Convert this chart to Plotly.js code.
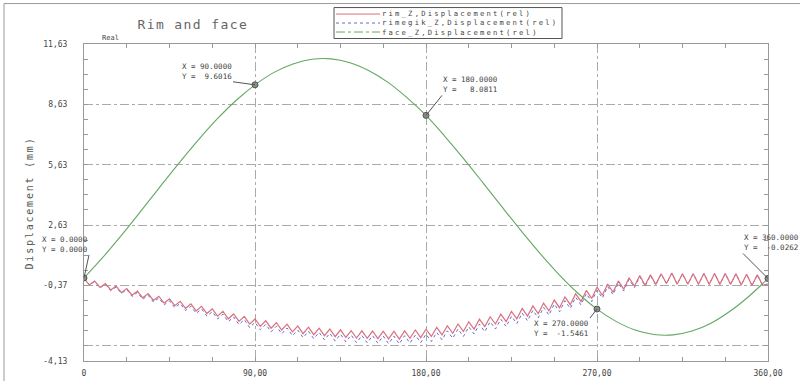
<!DOCTYPE html>
<html>
<head>
<meta charset="utf-8">
<script src="https://cdn.plot.ly/plotly-3.0.1.min.js"></script>
<style>html,body{margin:0;padding:0;background:#fff;}#chart{width:800px;height:381px;}</style>
</head>
<body>
<div id="chart"></div>
<script>
// ---- data ----
var faceAngle = [0,10,20,30,40,50,60,70,80,90,100,110,120,130,140,150,160,170,180,190,200,210,220,230,240,250,260,270,280,290,300,310,320,330,340,350,360];
var faceZ = [0.00,1.03,2.15,3.33,4.53,5.71,6.84,7.89,8.82,9.60,10.22,10.64,10.87,10.89,10.70,10.30,9.72,8.96,8.08,7.03,5.91,4.73,3.53,2.35,1.22,0.17,-0.76,-1.55,-2.16,-2.59,-2.81,-2.83,-2.64,-2.25,-1.66,-0.91,-0.03];

var rimStepCount = 128;   // 64 ripples over 360 deg, sampled at peaks and valleys
var rimZ = [-0.03,-0.34,-0.16,-0.47,-0.28,-0.60,-0.41,-0.73,-0.53,-0.86,-0.66,-0.99,-0.78,-1.12,-0.91,-1.25,-1.04,-1.38,-1.16,-1.51,
-1.29,-1.64,-1.41,-1.77,-1.54,-1.90,-1.66,-2.03,-1.79,-2.16,-1.91,-2.30,-2.04,-2.41,-2.13,-2.50,-2.22,-2.59,-2.30,-2.68,
-2.39,-2.77,-2.45,-2.82,-2.50,-2.87,-2.54,-2.92,-2.58,-2.96,-2.62,-2.99,-2.63,-3.00,-2.64,-3.02,-2.65,-3.03,-2.65,-3.04,
-2.63,-3.00,-2.59,-2.97,-2.55,-2.91,-2.46,-2.83,-2.38,-2.75,-2.29,-2.66,-2.18,-2.54,-2.05,-2.42,-1.93,-2.29,-1.80,-2.17,
-1.66,-2.03,-1.52,-1.90,-1.39,-1.77,-1.25,-1.64,-1.10,-1.48,-0.94,-1.33,-0.78,-1.17,-0.62,-1.02,-0.46,-0.86,-0.30,-0.71,
-0.15,-0.56,0.01,-0.41,0.12,-0.36,0.16,-0.32,0.21,-0.28,0.25,-0.31,0.21,-0.31,0.21,-0.31,0.22,-0.32,0.22,-0.32,
0.22,-0.32,0.21,-0.35,0.18,-0.38,0.16,-0.37,-0.30];
var rimegikZ = [-0.03,-0.35,-0.17,-0.49,-0.31,-0.63,-0.45,-0.77,-0.58,-0.92,-0.72,-1.06,-0.86,-1.20,-1.00,-1.34,-1.14,-1.48,-1.27,-1.62,
-1.41,-1.76,-1.54,-1.90,-1.68,-2.04,-1.80,-2.18,-1.94,-2.32,-2.07,-2.47,-2.21,-2.58,-2.31,-2.68,-2.40,-2.78,-2.49,-2.87,
-2.59,-2.97,-2.65,-3.02,-2.71,-3.08,-2.75,-3.14,-2.80,-3.18,-2.84,-3.22,-2.86,-3.23,-2.87,-3.25,-2.89,-3.27,-2.89,-3.28,
-2.87,-3.24,-2.84,-3.22,-2.80,-3.16,-2.71,-3.08,-2.63,-3.00,-2.54,-2.91,-2.43,-2.79,-2.30,-2.67,-2.18,-2.54,-2.05,-2.42,
-1.90,-2.27,-1.75,-2.13,-1.61,-1.99,-1.46,-1.85,-1.30,-1.68,-1.13,-1.52,-0.96,-1.34,-0.78,-1.18,-0.61,-1.00,-0.43,-0.83,
-0.26,-0.65,-0.07,-0.48,0.06,-0.41,0.12,-0.35,0.19,-0.29,0.25,-0.31,0.21,-0.31,0.21,-0.31,0.22,-0.32,0.22,-0.32,
0.22,-0.32,0.21,-0.35,0.18,-0.38,0.16,-0.37,-0.30];

var pickX = [0, 90, 180, 270, 360];
var pickY = [0.0000, 9.6016, 8.0811, -1.5461, -0.0262];
var pickXText = ["0.0000", "90.0000", "180.0000", "270.0000", "360.0000"];
var pickYText = ["0.0000", "9.6016", "8.0811", "-1.5461", "-0.0262"];

var seriesNames = ["rim_Z,Displacement(rel)", "rimegik_Z,Displacement(rel)", "face_Z,Displacement(rel)"];
var xTickVals = [0, 90, 180, 270, 360];
var xTickText = ["0", "90,00", "180,00", "270,00", "360,00"];
var yTickVals = [11.63, 8.63, 5.63, 2.63, -0.37, -3.37, -4.13];
var yTickText = ["11,63", "8,63", "5,63", "2,63", "-0,37", "", "-4,13"];

// ---- chart ----
var rimAngle = [];
for (var i = 0; i < rimZ.length; i++) rimAngle.push(i * 360 / rimStepCount);

var colRim = "#d9707c", colEgik = "#6a6ad0", colFace = "#62a862";
var mono = "DejaVu Sans Mono, Liberation Mono, monospace";

var traces = [
  {x: rimAngle, y: rimegikZ, mode: "lines", name: seriesNames[1], line: {color: colEgik, width: 1, dash: "dot"}},
  {x: rimAngle, y: rimZ, mode: "lines", name: seriesNames[0], line: {color: colRim, width: 1.2}},
  {x: faceAngle, y: faceZ, mode: "lines", name: seriesNames[2], line: {color: colFace, width: 1.1, shape: "spline"}},
  {x: pickX, y: pickY, mode: "markers", showlegend: false,
   marker: {symbol: "circle", size: 6, color: "#8a8a8a", line: {color: "#555", width: 1}}}
];

function padLeft(s, n) { while (s.length < n) s = "\u00a0" + s; return s; }

// picked-point label placement (pixel offsets of the label corner)
var offs = [[5, -23], [-22, -3], [16, -20], [-7, 9], [-25, -25]];
var xAnch = ["right", "right", "left", "right", "left"];
var yAnch = ["bottom", "bottom", "bottom", "top", "bottom"];
var annotations = [];
for (var k = 0; k < pickX.length; k++) {
  var w = pickXText[k].length;
  annotations.push({
    x: pickX[k], y: pickY[k], xref: "x", yref: "y",
    text: "X = " + pickXText[k] + "<br>Y = " + padLeft(pickYText[k], w),
    showarrow: true, arrowhead: 0, arrowwidth: 1, arrowcolor: "#555",
    ax: offs[k][0], ay: offs[k][1], xanchor: xAnch[k], yanchor: yAnch[k],
    borderpad: 0, align: "left", font: {family: mono, size: 7.5, color: "#444"}
  });
}
annotations.push({xref: "paper", yref: "paper", x: 0.023, y: 1.0, yanchor: "bottom", xanchor: "left",
  text: "Real", showarrow: false, font: {family: mono, size: 7, color: "#444"}});
annotations.push({xref: "paper", yref: "paper", x: -0.079, y: 0.5, xanchor: "center", yanchor: "middle",
  text: '<span style="letter-spacing:1.8px">Displacement (mm)</span>', textangle: -90, showarrow: false,
  font: {family: mono, size: 10, color: "#555"}});

// compact legend drawn with shapes + one multi-line text
function px(p) { return (p - 84) / 684; }
function py(p) { return (361 - p) / 317.5; }
var shapes = [
  {type: "rect", xref: "paper", yref: "paper", x0: px(4), x1: px(830), y0: py(400), y1: py(3), line: {color: "#999", width: 1}},
  {type: "rect", xref: "paper", yref: "paper", x0: px(334), x1: px(562), y0: py(38), y1: py(7), line: {color: "#555", width: 1}, fillcolor: "#fff"}
];
var legCols = [colRim, colEgik, colFace];
var legDash = ["solid", "dot", "dashdot"];
var legY = [13.5, 22.5, 31.5];
for (var j = 0; j < 3; j++) {
  shapes.push({type: "line", xref: "paper", yref: "paper", x0: px(336), x1: px(380),
    y0: py(legY[j]), y1: py(legY[j]), line: {color: legCols[j], width: 1, dash: legDash[j]}});
}
annotations.push({xref: "paper", yref: "paper", x: px(381), y: py(22.5), xanchor: "left", yanchor: "middle",
  text: seriesNames.map(function (s) { return '<span style="letter-spacing:2.2px">' + s + '</span>'; }).join("<br>"),
  align: "left", showarrow: false, borderpad: 0, font: {family: mono, size: 7.2, color: "#444"}});

var axisCommon = {
  showline: true, linecolor: "#999", linewidth: 1, mirror: "allticks",
  showgrid: true, gridcolor: "#aaa", griddash: "dashdot", gridwidth: 1,
  zeroline: false, ticks: "inside", ticklen: 4, tickcolor: "#999",
  tickfont: {family: mono, size: 8, color: "#444"}, fixedrange: true
};

var layout = {
  width: 800, height: 381,
  margin: {l: 84, r: 32, t: 43.5, b: 20},
  paper_bgcolor: "#fff", plot_bgcolor: "#fff",
  showlegend: false,
  title: {text: '<span style="letter-spacing:1.4px">Rim and face</span>', x: 0.241, xref: "container", xanchor: "center", y: 0.935, yanchor: "middle",
          font: {family: mono, size: 13, color: "#666"}},
  xaxis: Object.assign({}, axisCommon, {
    range: [0, 360], tickmode: "array", tickvals: xTickVals, ticktext: xTickText, ticklabelstandoff: 4,
    minor: {tickmode: "linear", tick0: 0, dtick: 22.5, ticks: "inside", ticklen: 4, tickcolor: "#999", showgrid: false}
  }),
  yaxis: Object.assign({}, axisCommon, {
    range: [-4.13, 11.63], tickmode: "array", tickvals: yTickVals, ticktext: yTickText, ticklabelstandoff: 14,
    minor: {tickmode: "linear", tick0: -0.37, dtick: 0.75, ticks: "inside", ticklen: 4, tickcolor: "#999", showgrid: false}
  }),
  shapes: shapes,
  annotations: annotations
};

Plotly.newPlot("chart", traces, layout, {displayModeBar: false, staticPlot: true});
</script>
</body>
</html>
